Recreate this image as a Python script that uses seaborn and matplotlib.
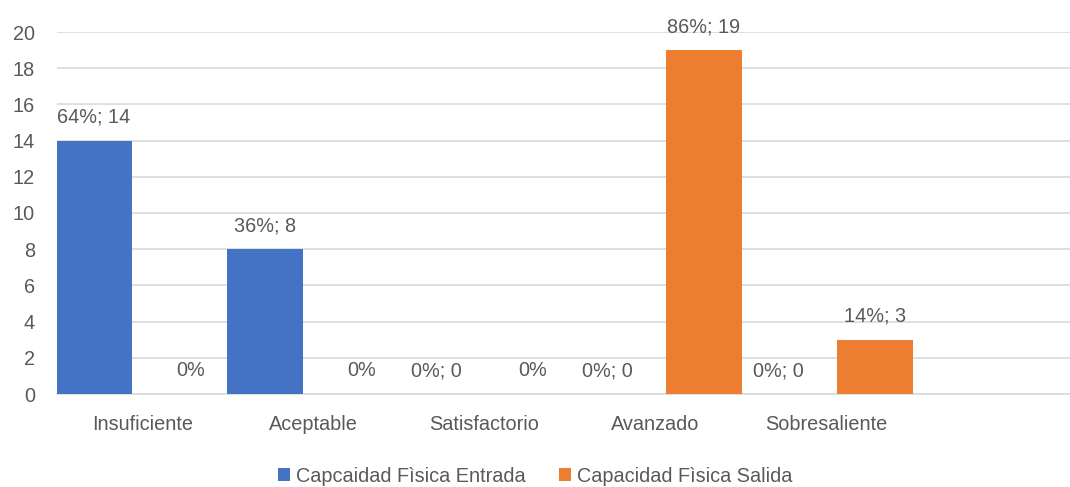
"""
Capacidad física: entrada vs salida por nivel
"""
import numpy as np
import pandas as pd
import matplotlib
matplotlib.use('Agg')
import matplotlib.pyplot as plt
import seaborn as sns
from matplotlib.patches import Patch

categorias = ['Insuficiente', 'Aceptable', 'Satisfactorio', 'Avanzado', 'Sobresaliente']
entrada = [14, 8, 0, 0, 0]
salida = [0, 0, 0, 19, 3]
etiquetas_entrada = ['64%; 14', '36%; 8', '0%; 0', '0%; 0', '0%; 0']
etiquetas_salida = ['0%', '0%', '0%', '86%; 19', '14%; 3']
series = ['Capcaidad Fìsica Entrada', 'Capacidad Fìsica Salida']
colores = ['#4472C4', '#ED7D31']
y_ticks = [0, 2, 4, 6, 8, 10, 12, 14, 16, 18, 20]

sns.set_theme(style='white')
plt.rcParams['font.family'] = ['Liberation Sans', 'DejaVu Sans']
gris_txt = '#595959'
fs = 14.3

df = pd.DataFrame({
    'Nivel': categorias * 2,
    'Valor': entrada + salida,
    'Serie': [series[0]] * len(categorias) + [series[1]] * len(categorias),
})

fig = plt.figure(figsize=(10.7, 4.87), dpi=100)
ax = fig.add_axes([57 / 1070, (487 - 394) / 487, 1013 / 1070, (394 - 32) / 487])

sns.barplot(data=df, x='Nivel', y='Valor', hue='Serie', order=categorias,
            hue_order=series, palette=colores, width=1.1345, gap=0.2265,
            saturation=1, linewidth=0, legend=False, ax=ax, zorder=3)

ax.set_ylim(0, 20)
ax.set_xlim(-0.5, -0.5 + 1013 / 171)
ax.set_yticks(y_ticks)
ax.grid(True, axis='y', color='#D9D9D9', linewidth=1.2, zorder=0)
ax.set_axisbelow(True)
for s in ['top', 'right', 'left']:
    ax.spines[s].set_visible(False)
ax.spines['bottom'].set_color('#D9D9D9')
ax.spines['bottom'].set_linewidth(1.2)
ax.tick_params(axis='both', length=0, labelsize=fs, colors=gris_txt)
ax.tick_params(axis='x', pad=15)
ax.tick_params(axis='y', pad=16)
ax.set_xlabel('')
ax.set_ylabel('')

# etiquetas de datos
for cont, labs in zip(ax.containers, [etiquetas_entrada, etiquetas_salida]):
    txts = ax.bar_label(cont, labels=labs, padding=10, fontsize=fs, color=gris_txt)
    for t in txts:
        t.set_clip_on(False)

handles = [Patch(facecolor=c, edgecolor='none') for c in colores]
fig.legend(handles, series, loc='center', bbox_to_anchor=(0.5, 1 - 476 / 487),
           ncol=2, frameon=False, fontsize=fs, labelcolor=gris_txt,
           handlelength=0.6, handleheight=0.6, handletextpad=0.3, columnspacing=1.7)

fig.savefig('out.png', dpi=100)
plt.close(fig)
print('✓ saved out.png')
